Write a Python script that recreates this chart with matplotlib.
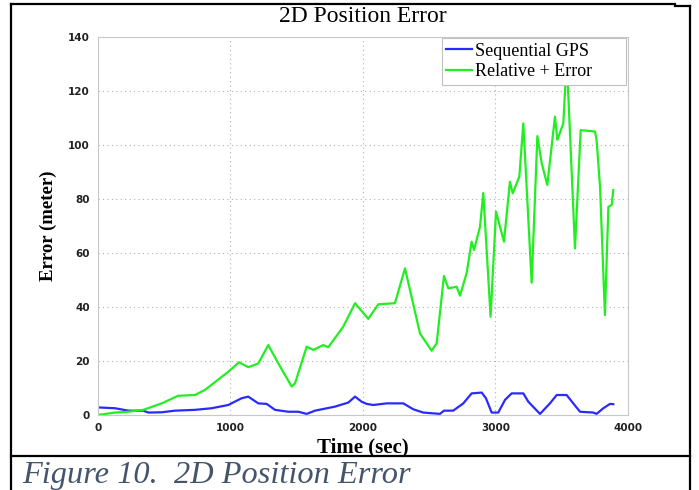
import matplotlib
matplotlib.use('Agg')
import matplotlib.pyplot as plt
from matplotlib.lines import Line2D

# Sequential GPS (blue)
gps_t = [0, 128, 229, 342, 380, 481, 581, 732, 858, 983, 1084, 1134, 1210, 1273,
         1336, 1436, 1512, 1575, 1638, 1789, 1889, 1940, 1990, 2028, 2078, 2179,
         2304, 2380, 2455, 2581, 2611, 2681, 2757, 2820, 2896, 2928, 2971, 3021,
         3072, 3122, 3210, 3248, 3336, 3411, 3462, 3537, 3587, 3638, 3738, 3763,
         3814, 3864, 3889]
gps_err = [2.8, 2.5, 1.6, 1.6, 0.9, 1.0, 1.6, 1.9, 2.5, 3.7, 6.2, 6.8, 4.3, 4.1,
           1.9, 1.2, 1.2, 0.4, 1.6, 3.1, 4.6, 6.8, 4.9, 4.1, 3.7, 4.3,
           4.3, 2.1, 0.9, 0.4, 1.6, 1.6, 4.3, 8.0, 8.3, 6.2, 0.9, 0.9,
           5.6, 8.0, 8.0, 4.9, 0.4, 4.3, 7.4, 7.4, 4.3, 1.2, 0.9, 0.4,
           2.5, 4.1, 4.0]

# Relative + Error (green)
rel_t = [0, 128, 229, 342, 481, 604, 732, 808, 983, 1064, 1135, 1210, 1285, 1361,
         1462, 1487, 1575, 1625, 1700, 1738, 1851, 1940, 2040, 2116, 2241, 2317,
         2430, 2518, 2556, 2611, 2644, 2707, 2732, 2782, 2820, 2838, 2883, 2908,
         2963, 3004, 3034, 3064, 3109, 3130, 3180, 3210, 3273, 3316, 3349, 3391,
         3449, 3467, 3512, 3530, 3545, 3600, 3643, 3751, 3763, 3789, 3826, 3852,
         3877, 3889]
rel_err = [0.0, 0.9, 1.2, 1.9, 4.3, 7.1, 7.4, 9.3, 16.0, 19.5, 17.7, 19.1, 25.9, 19.1,
           10.5, 11.7, 25.3, 24.1, 25.9, 25.1, 32.7, 41.4, 35.6, 41.0, 41.4, 54.3,
           30.2, 23.8, 26.5, 51.5, 46.9, 47.5, 44.2, 52.5, 64.2, 61.1, 69.7, 82.2,
           36.4, 75.3, 69.7, 64.2, 86.4, 82.1, 88.3, 108.0, 49.0, 103.3, 93.2, 85.2,
           110.5, 101.9, 108.0, 125.0, 124.0, 61.7, 105.5, 105.0, 101.9, 84.6, 37.0, 77.1,
           77.8, 83.3]

fig = plt.figure(figsize=(6.99, 4.90), dpi=100)
ax = fig.add_axes([0.1402, 0.1531, 0.7582, 0.7714])

ax.plot(gps_t, gps_err, color='#2a2aff', lw=1.6, label='Sequential GPS')
ax.plot(rel_t, rel_err, color='#22ee22', lw=1.6, label='Relative + Error')

ax.set_xlim(0, 4000)
ax.set_ylim(0, 140)
ax.set_xticks([0, 1000, 2000, 3000, 4000])
ax.set_yticks(range(0, 141, 20))
ax.grid(True, linestyle=(0, (1, 3)), color='#b0b0b0', lw=0.8)
for s in ax.spines.values():
    s.set_color('#c8c8c8')
ax.tick_params(length=0, pad=6, colors='#222222')
for lab in ax.get_xticklabels() + ax.get_yticklabels():
    lab.set_fontsize(7.5)
    lab.set_fontweight('bold')
    lab.set_family('DejaVu Sans')

ax.set_title('2D Position Error', family='Liberation Serif', fontsize=17, pad=11)
ax.set_xlabel('Time (sec)', family='Liberation Serif', fontsize=15, fontweight='bold', labelpad=3)
ax.set_ylabel('Error (meter)', family='Liberation Serif', fontsize=13.5, fontweight='bold', labelpad=8)

leg = ax.legend(loc='upper left', bbox_to_anchor=(0.649, 0.865, 0.347, 0.132), mode='expand',
                prop={'family': 'Liberation Serif', 'size': 13},
                handlelength=1.4, handletextpad=0.2, borderpad=0.25, labelspacing=0.2,
                fancybox=False, framealpha=1, edgecolor='#c0c0c0', borderaxespad=0)
leg.get_frame().set_linewidth(0.8)

# page frame and caption
W, H = 699.0, 490.0
def fline(x0, y0, x1, y1):
    fig.add_artist(Line2D([x0 / W, x1 / W], [1 - y0 / H, 1 - y1 / H],
                          transform=fig.transFigure, color='black', lw=1.6))

fline(11, 4, 675, 4)
fline(675, 6, 690, 6)
fline(11, 4, 11, 490)
fline(690, 6, 690, 490)
fline(11, 456, 690, 456)

fig.text(22 / W, 1 - 483 / H, 'Figure 10.  2D Position Error', family='Liberation Serif',
         style='italic', fontsize=23.3, color='#44546a', va='baseline')

fig.savefig('out.png', dpi=100)
